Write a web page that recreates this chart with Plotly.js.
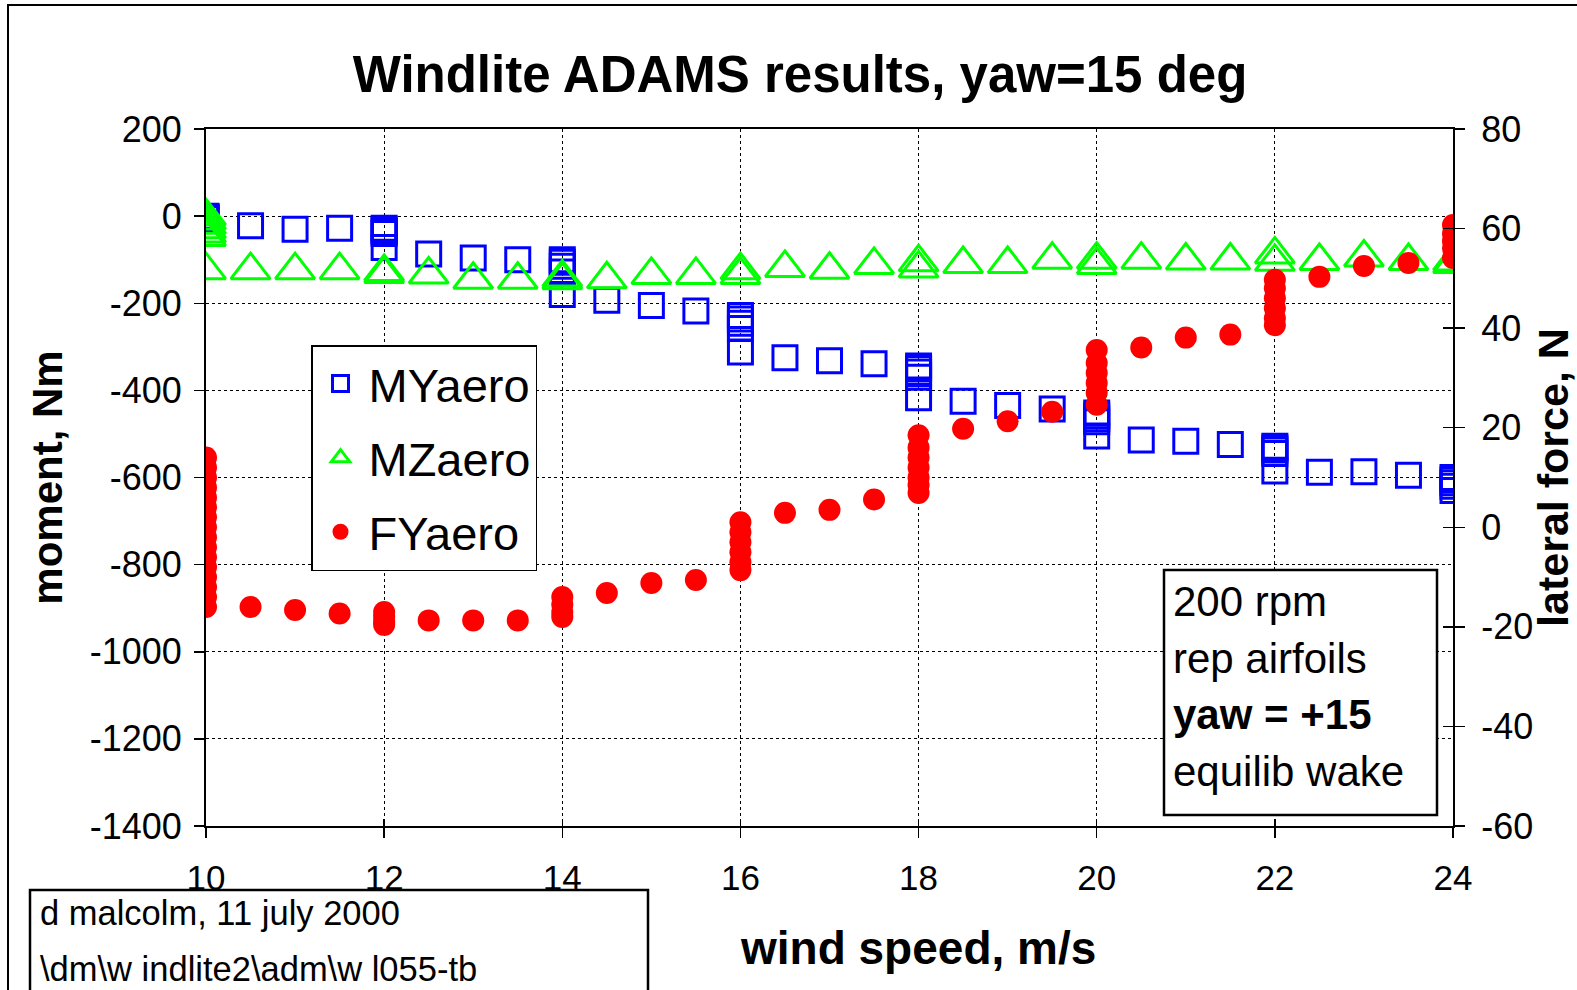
<!DOCTYPE html>
<html>
<head>
<meta charset="utf-8">
<script src="https://cdn.plot.ly/plotly-3.0.1.min.js"></script>
<style>html,body{margin:0;padding:0;background:#fff;}#chart{width:1577px;height:990px;}</style>
</head>
<body>
<div id="chart"></div>
<script>
// ---- data (wind speed m/s; moments Nm; lateral force N) ----
const myX = [10,10,10,10, 10.5, 11, 11.5, 12,12,12,12,12, 12.5, 13, 13.5, 14,14,14,14,14, 14.5, 15, 15.5,
             16,16,16,16,16, 16.5, 17, 17.5, 18,18,18,18,18, 18.5, 19, 19.5, 20,20,20,20,20, 20.5, 21, 21.5,
             22,22,22,22,22, 22.5, 23, 23.5, 24,24,24,24,24];
const myY = [0,-2,-4,-6, -22, -30, -28, -28,-31,-35,-40,-72, -87, -96, -100, -100,-106,-115,-128,-180, -193, -205, -218,
             -228,-236,-246,-258,-312, -325, -332, -339, -344,-350,-358,-370,-417, -425, -435, -443, -452,-458,-465,-472,-505, -514, -517, -524,
             -528,-532,-537,-545,-585, -588, -587, -595, -600,-605,-612,-620,-630];

const mzX = [10,10,10,10,10,10,10, 10.5, 11, 11.5, 12,12, 12.5, 13, 13.5, 14,14, 14.5, 15, 15.5,
             16,16, 16.5, 17, 17.5, 18,18, 18.5, 19, 19.5, 20,20, 20.5, 21, 21.5, 22,22, 22.5, 23, 23.5, 24,24];
const mzY = [0,-10,-20,-30,-40,-48,-124, -124, -124, -124, -128,-133, -134, -146, -146, -141,-147, -145, -135, -135,
             -124,-135, -119, -123, -112, -106,-120, -110, -110, -100, -100,-112, -100, -102, -102, -88,-105, -103, -95, -103, -104,-110];

const fyX = [10,10,10,10,10,10,10,10,10,10,10,10,10,10,10,10, 10.5, 11, 11.5, 12,12,12,12, 12.5, 13, 13.5,
             14,14,14,14, 14.5, 15, 15.5, 16,16,16,16,16,16, 16.5, 17, 17.5, 18,18,18,18,18,18,18, 18.5, 19, 19.5,
             20,20,20,20,20,20, 20.5, 21, 21.5, 22,22,22,22,22,22, 22.5, 23, 23.5, 24,24,24,24,24];
const fyY = [14,12,10,8,6,4,2,0,-2,-4,-6,-8,-10,-12,-14,-16, -16, -16.6, -17.3, -17,-18,-19,-19.6, -18.7, -18.7, -18.7,
             -14,-15.5,-17,-18, -13.2, -11.2, -10.6, 1,-1,-3,-5,-7,-8.6, 2.9, 3.5, 5.6, 18.5,16,14,12,10,8.5,6.9, 19.8, 21.3, 23.2,
             35.6,33,31,29,27,24.6, 36.1, 38.1, 38.7, 49.7,48,46,44,42,40.6, 50.3, 52.5, 53.1, 60.7,59,57.5,56,54.1];

const seriesNames = ['MYaero', 'MZaero', 'FYaero'];
const xTicks = [10, 12, 14, 16, 18, 20, 22, 24];
const yLeftTicks = [200, 0, -200, -400, -600, -800, -1000, -1200, -1400];
const yRightTicks = [80, 60, 40, 20, 0, -20, -40, -60];
const titleText = 'Windlite ADAMS results, yaw=15 deg';
const xTitle = 'wind speed, m/s';
const yTitle = 'moment, Nm';
const y2Title = 'lateral force, N';
const infoLines = ['200 rpm', 'rep airfoils', '<b>yaw = +15</b>', 'equilib wake'];
const creditLines = ['d malcolm, 11 july 2000', '\\dm\\w indlite2\\adm\\w l055-tb'];

// ---- geometry helpers (pixel -> paper) ----
const W = 1577, H = 990, L = 206, R = 124, T = 129, B = 164;
const PW = W - L - R, PH = H - T - B;
const px = v => (v - L) / PW;
const py = v => (H - B - v) / PH;
const FONT = 'Liberation Sans, Arial, sans-serif';

const traces = [
  {x: myX, y: myY, name: seriesNames[0], type: 'scatter', mode: 'markers', legendgroup: 'g1',
   marker: {symbol: 'square-open', size: 24, color: '#0000FF', line: {width: 3, color: '#0000FF'}}},
  {x: mzX, y: mzY, name: seriesNames[1], type: 'scatter', mode: 'markers', legendgroup: 'g2',
   marker: {symbol: 'triangle-up-open', size: 34, color: '#00FF00', line: {width: 3, color: '#00FF00'}}},
  {x: fyX, y: fyY, name: seriesNames[2], type: 'scatter', mode: 'markers', yaxis: 'y2', legendgroup: 'g3',
   marker: {symbol: 'circle', size: 22, color: '#FF0000', line: {width: 0}}},
  {x: [], y: [], xaxis: 'x2', yaxis: 'y3', type: 'scatter', mode: 'markers', showlegend: false, hoverinfo: 'skip'}
];

const axCommon = {color: '#000', linecolor: '#000', tickcolor: '#000', zeroline: false};

const layout = {
  width: W, height: H,
  margin: {l: L, r: R, t: T, b: B, pad: 0},
  paper_bgcolor: '#fff', plot_bgcolor: '#fff',
  font: {family: FONT, color: '#000'},
  showlegend: true,
  title: {text: '<b>' + titleText + '</b>', font: {family: FONT, size: 51, color: '#000'},
          x: 800 / W, xref: 'container', xanchor: 'center', y: 1 - 74 / H, yref: 'container', yanchor: 'middle'},
  xaxis: Object.assign({}, axCommon, {
    range: [10, 24], tickvals: xTicks, ticktext: xTicks.map(String),
    tickfont: {family: FONT, size: 35, color: '#000'},
    showgrid: true, gridcolor: '#000', gridwidth: 1, griddash: 'dot',
    showline: true, linewidth: 2, mirror: true,
    ticks: 'outside', ticklen: 10, tickwidth: 1.5, ticklabelstandoff: 10
  }),
  xaxis2: {overlaying: 'x', anchor: 'y', side: 'bottom', range: [10, 24], tickvals: xTicks,
    ticks: 'inside', ticklen: 7, tickwidth: 1.5, tickcolor: '#000', showticklabels: false,
    showgrid: false, zeroline: false, showline: false},
  yaxis: Object.assign({}, axCommon, {
    range: [-1400, 200], tickvals: yLeftTicks, ticktext: yLeftTicks.map(String),
    tickfont: {family: FONT, size: 36, color: '#000'},
    showgrid: true, gridcolor: '#000', gridwidth: 1, griddash: 'dot',
    showline: true, linewidth: 2, mirror: true,
    ticks: 'outside', ticklen: 10, tickwidth: 1.5, ticklabelstandoff: 5,
    title: {text: '<b>' + yTitle + '</b>', font: {family: FONT, size: 42, color: '#000'}, standoff: 14}
  }),
  yaxis2: Object.assign({}, axCommon, {
    overlaying: 'y', side: 'right', anchor: 'x',
    range: [-60, 80], tickvals: yRightTicks, ticktext: yRightTicks.map(String),
    tickfont: {family: FONT, size: 36, color: '#000'},
    showgrid: false, showline: true, linewidth: 2,
    ticks: 'outside', ticklen: 10, tickwidth: 1.5, ticklabelstandoff: 9,
    title: {text: '<b>' + y2Title + '</b>', font: {family: FONT, size: 43, color: '#000'}, standoff: 34}
  }),
  yaxis3: {overlaying: 'y', side: 'right', anchor: 'x', range: [-60, 80], tickvals: yRightTicks,
    ticks: 'inside', ticklen: 10, tickwidth: 1.5, tickcolor: '#000', showticklabels: false,
    showgrid: false, zeroline: false, showline: false},
  legend: {x: px(311), y: py(345), xanchor: 'left', yanchor: 'top',
    bgcolor: '#fff', bordercolor: '#000', borderwidth: 1.5,
    font: {family: FONT, size: 47, color: '#000'}, tracegroupgap: 10, itemwidth: 46},
  shapes: [
    // outer chart frame
    {type: 'rect', xref: 'paper', yref: 'paper', x0: px(8), x1: px(1640), y0: py(5), y1: py(1040),
     line: {color: '#000', width: 2}, fillcolor: 'rgba(0,0,0,0)', layer: 'above'},
    // info box
    {type: 'rect', xref: 'paper', yref: 'paper', x0: px(1164), x1: px(1437), y0: py(570), y1: py(815),
     line: {color: '#000', width: 2.5}, fillcolor: '#fff', layer: 'above'},
    // credit box
    {type: 'rect', xref: 'paper', yref: 'paper', x0: px(30), x1: px(648), y0: py(890), y1: py(1040),
     line: {color: '#000', width: 2.5}, fillcolor: '#fff', layer: 'above'}
  ],
  annotations: []
};

// x-axis title
layout.annotations.push({text: '<b>' + xTitle + '</b>', xref: 'paper', yref: 'paper', x: px(918), y: py(948),
  xanchor: 'center', yanchor: 'middle', showarrow: false, font: {family: FONT, size: 46, color: '#000'}});
// info lines
const infoY = [601, 658, 714, 771];
infoLines.forEach((t, i) => layout.annotations.push({text: t, xref: 'paper', yref: 'paper', x: px(1171), y: py(infoY[i]),
  xanchor: 'left', yanchor: 'middle', showarrow: false, font: {family: FONT, size: 42, color: '#000'}}));
// credit lines
const creditY = [913, 969];
creditLines.forEach((t, i) => layout.annotations.push({text: t, xref: 'paper', yref: 'paper', x: px(38), y: py(creditY[i]),
  xanchor: 'left', yanchor: 'middle', showarrow: false, font: {family: FONT, size: 34.5, color: '#000'}}));

Plotly.newPlot('chart', traces, layout, {staticPlot: true, displayModeBar: false});
</script>
</body>
</html>
